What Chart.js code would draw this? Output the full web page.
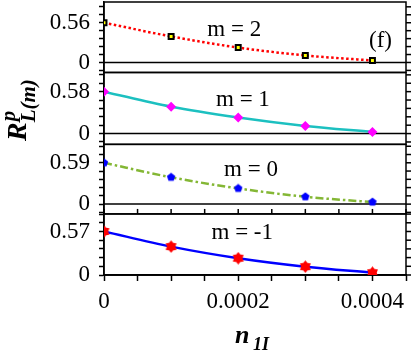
<!DOCTYPE html>
<html>
<head>
<meta charset="utf-8">
<script src="https://cdn.jsdelivr.net/npm/chart.js@4"></script>
<style>
  html, body { margin: 0; padding: 0; background: #fff; }
</style>
</head>
<body>
<canvas id="chart" width="415" height="361"></canvas>
<script>
// =====================
// data
// =====================
var xValues = [0, 0.0001, 0.0002, 0.0003, 0.0004];
var m2Values = [0.56, 0.367, 0.21, 0.099, 0.028];
var m1Values = [0.58, 0.371, 0.223, 0.106, 0.022];
var m0Values = [0.59, 0.383, 0.224, 0.105, 0.029];
var mMinus1Values = [0.57, 0.372, 0.22, 0.109, 0.03];
var panelLabels = ['m = 2', 'm = 1', 'm = 0', 'm = -1'];
var xTickLabels = ['0', '0.0002', '0.0004'];

// panel ranges (top panel first)
var panelMax = [0.852, 0.845, 0.853, 0.80];
var panelMin = [-0.141, -0.149, -0.14, 0];
var panelWeights = [70.4, 71.8, 69.5, 61];
var panelIds = ['y0', 'y1', 'y2', 'y3'];

// where the "m = .." labels sit, in data units
var labelX = [0.000194, 0.000207, 0.000219, 0.000206];
var labelY = [0.46, 0.46, 0.49, 0.55];

var serif = "'Liberation Serif', 'DejaVu Serif', serif";

// small marker images
function makeMarker(size, draw) {
  var c = document.createElement('canvas');
  c.width = size; c.height = size;
  draw(c.getContext('2d'), size / 2);
  return c;
}
var pentagon = makeMarker(10, function (g, r) {
  g.fillStyle = '#0000ff';
  g.beginPath();
  for (var i = 0; i < 5; i++) {
    var a = -Math.PI / 2 + i * 2 * Math.PI / 5;
    g.lineTo(r + 4.4 * Math.cos(a), r + 4.4 * Math.sin(a));
  }
  g.closePath();
  g.fill();
});
var redStar = makeMarker(13, function (g, r) {
  g.fillStyle = '#ff0000';
  g.beginPath();
  for (var i = 0; i < 12; i++) {
    var a = -Math.PI / 2 + i * Math.PI / 6;
    var rr = (i % 2 === 0) ? 6.3 : 4.2;
    g.lineTo(r + rr * Math.cos(a), r + rr * Math.sin(a));
  }
  g.closePath();
  g.fill();
});

function pairs(ys) {
  return xValues.map(function (x, i) { return { x: x, y: ys[i] }; });
}

var peaks = [m2Values[0], m1Values[0], m0Values[0], mMinus1Values[0]];

function panelAxis(i) {
  var peak = peaks[i];
  return {
    type: 'linear',
    position: 'left',
    stack: 'panels',
    stackWeight: panelWeights[i],
    weight: 4 - i,
    min: panelMin[i],
    max: panelMax[i],
    bounds: 'data',
    border: { color: '#000', width: 1.5 },
    grid: { drawOnChartArea: false, tickLength: 5, tickColor: '#000', tickWidth: 1.5 },
    ticks: {
      autoSkip: false,
      padding: 9,
      color: '#000',
      font: { family: serif, size: 23 },
      callback: function (v) {
        if (Math.abs(v) < 1e-9) return '0';
        if (Math.abs(v - peak) < 1e-6) return peak.toFixed(2);
        return '';
      }
    },
    afterBuildTicks: function (scale) {
      var step = peak / 5, t = [];
      for (var k = Math.ceil(scale.min / step - 1e-9); k * step <= scale.max + 1e-9; k++) {
        t.push({ value: k * step });
      }
      scale.ticks = t;
    },
    afterFit: function (scale) {
      scale.width = 104;
      scale.paddingTop = 0;
      scale.paddingBottom = 0;
    }
  };
}

function line(ctx, x1, y1, x2, y2) {
  ctx.beginPath(); ctx.moveTo(x1, y1); ctx.lineTo(x2, y2); ctx.stroke();
}

var framePlugin = {
  id: 'frames',
  beforeDatasetsDraw: function (chart) {
    var ctx = chart.ctx, area = chart.chartArea;
    ctx.save();
    ctx.strokeStyle = '#000';
    ctx.lineWidth = 1.5;
    panelIds.forEach(function (id) {
      var s = chart.scales[id];
      ctx.strokeRect(area.left, s.top, area.right - area.left, s.bottom - s.top);
      var y0 = s.getPixelForValue(0);
      line(ctx, area.left, y0, area.right, y0);
      s.ticks.forEach(function (t) {
        var y = s.getPixelForValue(t.value);
        line(ctx, area.right, y, area.right + 5, y);
      });
    });
    // x ticks on the edge between panel 3 and 4
    var s3 = chart.scales.y2, xs = chart.scales.x;
    xs.ticks.forEach(function (t) {
      var x = xs.getPixelForValue(t.value);
      line(ctx, x, s3.bottom, x, s3.bottom - 5);
    });
    ctx.restore();
  },
  afterDraw: function (chart) {
    var ctx = chart.ctx, xs = chart.scales.x;
    ctx.save();
    ctx.fillStyle = '#000';
    ctx.textAlign = 'center';
    ctx.textBaseline = 'middle';
    ctx.font = '23px ' + serif;
    panelIds.forEach(function (id, i) {
      var s = chart.scales[id];
      ctx.fillText(panelLabels[i], xs.getPixelForValue(labelX[i]), s.getPixelForValue(labelY[i]));
    });
    ctx.fillText('(f)', xs.getPixelForValue(0.000412), chart.scales.y0.getPixelForValue(0.31));

    // x title: n_1I
    ctx.textAlign = 'left';
    ctx.textBaseline = 'alphabetic';
    ctx.font = 'bold italic 26px ' + serif;
    ctx.fillText('n', 235, 343);
    ctx.font = 'bold italic 18px ' + serif;
    ctx.fillText('1I', 253, 350);

    // y title: R^p_L(m), rotated
    ctx.translate(26, 141);
    ctx.rotate(-Math.PI / 2);
    ctx.font = 'bold italic 28px ' + serif;
    ctx.fillText('R', 0, 0);
    var w = ctx.measureText('R').width;
    ctx.font = 'bold italic 21px ' + serif;
    ctx.fillText('p', w + 1, -11);
    ctx.fillText('L(m)', w, 9);
    ctx.restore();
  }
};

var ctxChart = document.getElementById('chart').getContext('2d');

var chart = new Chart(ctxChart, {
  type: 'line',
  data: {
    datasets: [
      {
        data: pairs(m2Values), yAxisID: 'y0',
        borderColor: '#ff0000', borderWidth: 2.5, borderDash: [2.5, 2.5],
        pointStyle: 'rect', pointRadius: 3.5, pointBorderWidth: 2,
        pointBorderColor: '#000', pointBackgroundColor: '#ffff00'
      },
      {
        data: pairs(m1Values), yAxisID: 'y1',
        borderColor: '#1cc0c0', borderWidth: 2.5,
        pointStyle: 'rectRot', pointRadius: 5, pointBorderWidth: 0,
        pointBackgroundColor: '#ff00ff'
      },
      {
        data: pairs(m0Values), yAxisID: 'y2',
        borderColor: '#84b735', borderWidth: 2.5, borderDash: [8, 3, 2.5, 3],
        pointStyle: pentagon
      },
      {
        data: pairs(mMinus1Values), yAxisID: 'y3',
        borderColor: '#0000ff', borderWidth: 2.5,
        pointStyle: redStar
      }
    ]
  },
  options: {
    responsive: false,
    animation: false,
    cubicInterpolationMode: 'monotone',
    layout: { autoPadding: false, padding: { top: 2, right: 9, left: 0, bottom: 0 } },
    plugins: { legend: { display: false }, tooltip: { enabled: false } },
    scales: {
      x: {
        type: 'linear',
        position: 'bottom',
        min: 0,
        max: 0.00045,
        border: { color: '#000', width: 1.5 },
        grid: { drawOnChartArea: false, tickLength: 6, tickColor: '#000', tickWidth: 1.5 },
        ticks: {
          autoSkip: false,
          maxRotation: 0,
          padding: 7,
          color: '#000',
          font: { family: serif, size: 23 },
          callback: function (v, i) {
            return (i % 4 === 0) ? xTickLabels[i / 4] : '';
          }
        },
        afterBuildTicks: function (scale) {
          var t = [];
          for (var k = 0; k <= 9; k++) t.push({ value: k * 0.00005 });
          scale.ticks = t;
        },
        afterFit: function (scale) { scale.height = 86; }
      },
      y0: panelAxis(0),
      y1: panelAxis(1),
      y2: panelAxis(2),
      y3: panelAxis(3)
    }
  },
  plugins: [framePlugin]
});
</script>
</body>
</html>
